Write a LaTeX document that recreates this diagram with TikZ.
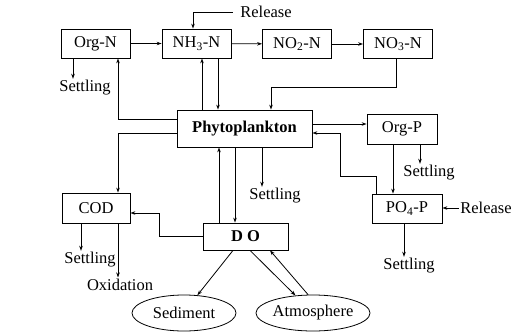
\documentclass[tikz,border=0pt]{standalone}
\usepackage{fontspec}
\setmainfont{Liberation Serif}
\usetikzlibrary{arrows.meta,shapes.geometric}

\begin{document}
\begin{tikzpicture}[x=1pt,y=-1pt,
    font=\fontsize{16.5}{18}\selectfont,
    box/.style={draw,line width=0.8pt,minimum width=69pt,minimum height=29pt,inner sep=0pt},
    pool/.style={draw,ellipse,line width=0.8pt,minimum width=#1,minimum height=36pt,inner sep=0pt},
    lbl/.style={inner sep=1.5pt},
    arr/.style={line width=0.8pt,-{Stealth[length=5pt,width=3.5pt]}}]
    \useasboundingbox (0,0) rectangle (513,332);
    % nitrogen chain
    \node[box] (orgn) at (95.5,43.5) {Org-N};
    \node[box] (nh3) at (196.5,43.5) {NH\textsubscript{3}-N};
    \node[box] (no2) at (297,44) {NO\textsubscript{2}-N};
    \node[box] (no3) at (398,44) {NO\textsubscript{3}-N};
    \node[box,minimum width=135pt,minimum height=37pt] (phyto) at (244.5,128.5) {\bfseries Phytoplankton};
    \node[box,minimum width=70pt,minimum height=30pt] (orgp) at (402,129) {Org-P};
    \node[box,minimum width=68pt,minimum height=30pt] (cod) at (96,208) {COD};
    \node[box,minimum width=70pt] (po4) at (407,208.5) {PO\textsubscript{4}-P};
    \node[box,minimum width=85pt,minimum height=27pt] (do) at (245.5,236.5) {\bfseries D O};
    \node[pool=104pt] (sed) at (184,313) {Sediment};
    \node[pool=93pt] (atm) at (313,313) {Atmosphere};
    % labels
    \node[lbl] (reltop) at (266,12) {Release};
    \node[lbl] (setorgn) at (85,88) {Settling};
    \node[lbl] (setorgp) at (429,173) {Settling};
    \node[lbl] (relp) at (486,208) {Release};
    \node[lbl] (setpo4) at (409,266) {Settling};
    \node[lbl] (setphy) at (275,196) {Settling};
    \node[lbl] (setcod) at (90,260) {Settling};
    \node[lbl] (oxid) at (120,285) {Oxidation};
    \coordinate (pbend) at (340,176);
    % flows
    \draw[arr] (orgn) -- (nh3);
    \draw[arr] (nh3) -- (no2);
    \draw[arr] (no2) -- (no3);
    \draw[arr] ([xshift=-6pt]reltop.west) -| ([xshift=-3.5pt]nh3.north);
    \draw[arr] ([xshift=-22.5pt]orgn.south) -- ([xshift=-22.5pt]orgn.south |- setorgn.north);
    \draw[arr] ([yshift=9.5pt]phyto.west) -| ([xshift=22.5pt]orgn.south);
    \draw[arr] ([xshift=5.5pt]nh3.south |- phyto.north) -- ([xshift=5.5pt]nh3.south);
    \draw[arr] ([xshift=21.5pt]nh3.south) -- ([xshift=21.5pt]nh3.south |- phyto.north);
    \draw[arr] ([xshift=-2pt]no3.south) -- ++(0,28) -| ([xshift=26.5pt]phyto.north);
    \draw[arr] ([yshift=-4.5pt]phyto.west) -| ([xshift=22pt]cod.north);
    \draw[arr] ([yshift=4.5pt]phyto.east) -- ([yshift=4.5pt]phyto.east -| orgp.west);
    \draw[arr] ([xshift=-31pt]po4.north) |- (pbend) |- ([yshift=-4.5pt]phyto.east);
    \draw[arr] ([xshift=-9pt]orgp.south) -- ([xshift=-9pt]orgp.south |- po4.north);
    \draw[arr] ([xshift=18pt]orgp.south) -- ([xshift=18pt]orgp.south |- setorgp.north);
    \draw[arr] (relp.west) -- (relp.west -| po4.east);
    \draw[arr] ([xshift=-3pt]po4.south) -- ([xshift=-3pt]po4.south |- setpo4.north);
    \draw[arr] ([xshift=17.5pt]phyto.south) -- ([xshift=17.5pt]phyto.south |- setphy.north);
    \draw[arr] ([xshift=-26.5pt]do.north) -- ([xshift=-26.5pt]do.north |- phyto.south);
    \draw[arr] ([xshift=-9.5pt]phyto.south) -- ([xshift=-9.5pt]phyto.south |- do.north);
    \draw[arr] (do.west) -- ++(-43,0) |- ([yshift=-5pt]cod.east);
    \draw[arr] ([xshift=-15pt]cod.south) -- ([xshift=-15pt]cod.south |- setcod.north);
    \draw[arr] ([xshift=22pt]cod.south) -- ([xshift=22pt]cod.south |- oxid.north);
    \draw[arr] ([xshift=-12.5pt]do.south) -- (sed.53);
    \draw[arr] ([xshift=4.5pt]do.south) -- (atm.135);
    \draw[arr] (atm.105) -- ([xshift=24.5pt]do.south);
\end{tikzpicture}
\end{document}
